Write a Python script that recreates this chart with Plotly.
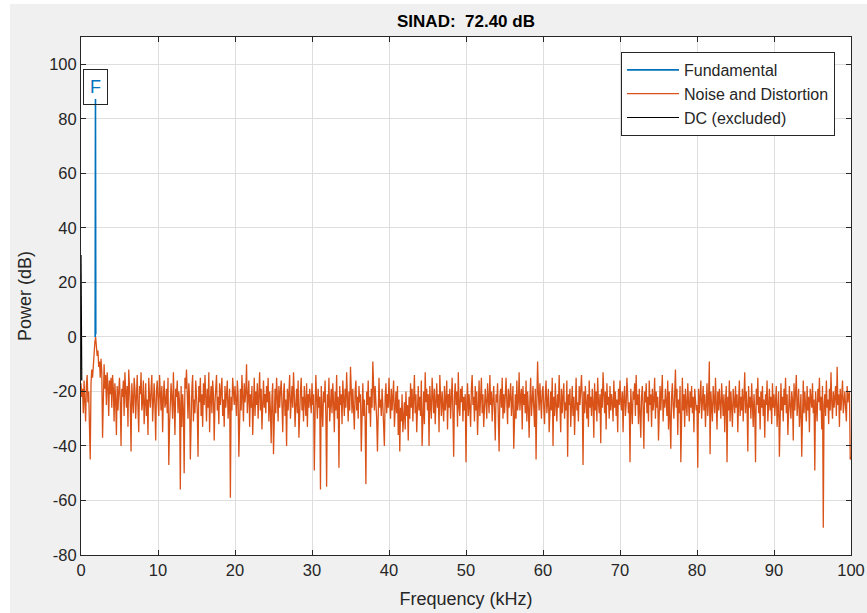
import plotly.graph_objects as go

# Spectrum bin spacing (kHz) for the noise/distortion trace
BIN_KHZ = 0.1

# Noise and distortion power (dB), one value per 0.1 kHz bin from 0 to 100 kHz
noise_db = [
    # 0.0 - 4.9 kHz
    -17, -22, -19, -28, -16, -25, -31, -18, -14, -24, -20, -33, -45, -17, -12, -15, -9, -6, -2, 0,
    -3, -7, -5, -11, -9, -15, -8, -13, -37, -12, -10, -19, -14, -25, -13, -18, -29, -16, -21, -15,
    -26, -14, -19, -31, -17, -23, -36, -18, -27, -20,
    # 5.0 - 9.9 kHz
    -15, -24, -40, -19, -22, -16, -29, -13, -21, -26, -18, -33, -12, -20, -25, -42, -17, -23, -28, -15,
    -19, -30, -22, -14, -26, -35, -18, -21, -13, -27, -24, -16, -32, -20, -17, -29, -23, -36, -15, -22,
    -26, -19, -14, -31, -21, -17, -25, -38, -20, -16,
    # 10.0 - 14.9 kHz
    -23, -29, -14, -20, -27, -18, -35, -22, -16, -26, -24, -19, -28, -15, -47, -32, -26, -17, -23, -30,
    -13, -25, -36, -19, -22, -16, -28, -20, -24, -56, -18, -33, -21, -27, -50, -15, -19, -12, -25, -30,
    -17, -22, -45, -26, -19, -14, -31, -23, -28, -16,
    # 15.0 - 19.9 kHz
    -20, -27, -44, -18, -24, -15, -29, -21, -33, -17, -25, -14, -22, -31, -19, -26, -13, -35, -23, -18,
    -28, -16, -21, -38, -24, -19, -14, -27, -22, -32, -17, -25, -20, -15, -29, -23, -33, -18, -26, -21,
    -16, -30, -24, -19, -59, -22, -27, -15, -20, -25,
    # 20.0 - 24.9 kHz
    -18, -23, -29, -16, -21, -44, -25, -19, -27, -14, -22, -31, -17, -24, -20, -10, -28, -23, -16, -33,
    -21, -26, -18, -36, -24, -15, -29, -20, -25, -17, -30, -22, -13, -27, -19, -34, -23, -16, -26, -21,
    -28, -18, -24, -15, -31, -20, -27, -39, -22, -17,
    # 25.0 - 29.9 kHz
    -43, -24, -19, -28, -15, -22, -31, -18, -26, -20, -16, -25, -35, -21, -17, -29, -23, -40, -19, -27,
    -22, -14, -30, -24, -18, -26, -13, -21, -33, -25, -19, -28, -16, -37, -23, -20, -15, -27, -22, -31,
    -18, -24, -29, -17, -33, -21, -26, -19, -23, -28,
    # 30.0 - 34.9 kHz
    -17, -25, -21, -49, -28, -14, -23, -30, -19, -26, -22, -56, -18, -27, -33, -20, -24, -16, -29, -55,
    -21, -26, -15, -31, -23, -19, -28, -17, -24, -35, -20, -27, -14, -30, -22, -48, -18, -25, -21, -32,
    -16, -24, -29, -19, -26, -13, -22, -31, -20, -27,
    # 35.0 - 39.9 kHz
    -11, -23, -28, -19, -25, -34, -20, -16, -27, -22, -30, -18, -24, -21, -42, -26, -17, -29, -23, -31,
    -54, -20, -25, -16, -28, -22, -33, -19, -26, -9, -21, -27, -18, -24, -30, -42, -20, -15, -26, -23,
    -29, -19, -25, -36, -40, -22, -17, -28, -21, -26,
    # 40.0 - 44.9 kHz
    -15, -24, -30, -19, -27, -22, -16, -33, -25, -20, -28, -18, -36, -23, -42, -26, -31, -21, -35, -27,
    -24, -34, -20, -29, -25, -38, -22, -30, -17, -26, -19, -31, -23, -14, -28, -21, -35, -24, -18, -27,
    -22, -29, -16, -40, -25, -20, -32, -13, -24, -19,
    # 45.0 - 49.9 kHz
    -27, -21, -40, -18, -25, -30, -15, -23, -28, -19, -32, -24, -17, -26, -21, -35, -14, -22, -29, -20,
    -25, -31, -18, -27, -23, -16, -34, -21, -26, -19, -30, -24, -15, -28, -44, -22, -17, -25, -20, -33,
    -13, -26, -29, -19, -24, -18, -31, -22, -27, -21,
    # 50.0 - 54.9 kHz
    -46, -24, -17, -29, -21, -26, -33, -19, -14, -25, -22, -31, -18, -27, -20, -36, -24, -16, -29, -23,
    -15, -28, -21, -33, -26, -19, -24, -30, -17, -22, -28, -14, -25, -20, -31, -23, -18, -27, -38, -21,
    -24, -17, -29, -42, -22, -19, -26, -15, -30, -21,
    # 55.0 - 59.9 kHz
    -28, -20, -15, -24, -32, -19, -26, -22, -17, -29, -23, -18, -41, -25, -21, -30, -16, -27, -24, -13,
    -27, -22, -19, -34, -18, -25, -21, -28, -16, -31, -20, -26, -37, -23, -15, -29, -22, -18, -26, -33,
    -19, -45, -24, -9, -21, -27, -17, -25, -30, -20,
    # 60.0 - 64.9 kHz
    -18, -26, -32, -21, -16, -28, -23, -19, -35, -24, -20, -27, -15, -40, -22, -29, -17, -25, -31, -21,
    -26, -14, -23, -35, -19, -28, -22, -17, -30, -24, -27, -16, -44, -21, -25, -19, -33, -23, -18, -29,
    -22, -36, -20, -15, -27, -24, -31, -18, -25, -21,
    # 65.0 - 69.9 kHz
    -14, -23, -47, -20, -28, -18, -25, -30, -21, -33, -16, -26, -22, -29, -19, -24, -37, -17, -27, -20,
    -31, -15, -24, -28, -21, -39, -19, -26, -13, -23, -28, -20, -34, -17, -25, -22, -30, -18, -27, -21,
    -24, -31, -16, -26, -20, -29, -23, -35, -19, -25,
    # 70.0 - 74.9 kHz
    -16, -24, -27, -20, -35, -22, -18, -29, -25, -15, -21, -28, -24, -46, -19, -26, -32, -20, -23, -17,
    -29, -14, -25, -21, -32, -19, -27, -37, -22, -18, -26, -41, -20, -24, -17, -28, -22, -31, -16, -25,
    -21, -33, -19, -27, -23, -15, -30, -20, -26, -22,
    # 75.0 - 79.9 kHz
    -38, -24, -18, -27, -21, -14, -31, -23, -26, -19, -24, -29, -16, -34, -20, -28, -41, -22, -17, -25,
    -30, -21, -12, -26, -19, -36, -23, -28, -18, -46, -24, -15, -27, -21, -33, -19, -25, -29, -17, -23,
    -31, -20, -26, -18, -28, -22, -35, -19, -24, -27,
    # 80.0 - 84.9 kHz
    -25, -48, -19, -28, -22, -16, -30, -24, -18, -27, -21, -33, -26, -17, -29, -23, -9, -43, -20, -26,
    -31, -18, -24, -28, -15, -22, -34, -20, -27, -19, -25, -30, -17, -23, -29, -21, -35, -24, -18, -46,
    -22, -27, -16, -31, -20, -26, -33, -19, -24, -28,
    # 85.0 - 89.9 kHz
    -18, -26, -21, -35, -24, -16, -29, -22, -27, -19, -31, -23, -13, -28, -20, -25, -42, -18, -26, -22,
    -30, -17, -24, -33, -21, -27, -46, -19, -25, -15, -28, -22, -34, -20, -26, -18, -29, -23, -37, -21,
    -25, -16, -31, -24, -19, -27, -22, -32, -17, -26,
    # 90.0 - 94.9 kHz
    -21, -29, -24, -18, -33, -26, -20, -44, -23, -17, -27, -22, -31, -19, -25, -15, -28, -21, -36, -24,
    -18, -26, -30, -20, -23, -38, -17, -27, -22, -14, -29, -24, -19, -33, -26, -21, -44, -23, -16, -28,
    -20, -25, -31, -18, -27, -22, -35, -19, -24, -26,
    # 95.0 - 100.0 kHz
    -17, -28, -23, -49, -20, -26, -31, -19, -24, -15, -27, -22, -34, -18, -70, -25, -21, -29, -16, -26,
    -23, -32, -19, -27, -13, -24, -30, -20, -26, -22, -18, -29, -11, -25, -21, -33, -19, -27, -23, -16,
    -28, -22, -20, -26, -31, -18, -24, -21, -20, -45,
    -44,
]
noise_khz = [i * BIN_KHZ for i in range(len(noise_db))]

# Fundamental tone bins
fund_khz = [1.84, 1.88, 1.92]
fund_db = [0, 87.3, 1]

# DC bins (excluded from the SINAD computation)
dc_khz = [0.0, 0.1]
dc_db = [30, -16]

sinad_db = 72.40

x_ticks = list(range(0, 101, 10))
y_ticks = list(range(-80, 101, 20))

BLUE = "#0072BD"
ORANGE = "#D95319"
AXIS = "#262626"
GRID = "#dedede"
FONT = "Liberation Sans, Arial, sans-serif"

fig = go.Figure()
fig.add_trace(go.Scatter(x=noise_khz, y=noise_db, mode="lines", name="Noise and Distortion",
                         line=dict(color=ORANGE, width=1.3), legendrank=2))
fig.add_trace(go.Scatter(x=fund_khz, y=fund_db, mode="lines", name="Fundamental",
                         line=dict(color=BLUE, width=1.6), legendrank=1))
fig.add_trace(go.Scatter(x=dc_khz, y=dc_db, mode="lines", name="DC (excluded)",
                         line=dict(color="#000000", width=1.2), legendrank=3))

# Marker label on the fundamental peak
fig.add_annotation(x=fund_khz[1], y=91.6, text="F", showarrow=False,
                   font=dict(color=BLUE, size=18, family=FONT),
                   bordercolor=AXIS, borderwidth=1, bgcolor="rgba(0,0,0,0)",
                   width=21, height=32, xanchor="center", yanchor="middle")

# Window background: grey figure area, white plot area
fig.add_shape(type="rect", xref="paper", yref="paper", layer="below",
              x0=(10 - 81) / 770, x1=(880 - 81) / 770, y0=-0.2, y1=(555 - 4) / 518,
              fillcolor="#f0f0f0", line=dict(width=0))
fig.add_shape(type="rect", xref="paper", yref="paper", layer="below",
              x0=0, x1=1, y0=0, y1=1, fillcolor="white", line=dict(width=0))

axis_common = dict(
    showline=True, linecolor=AXIS, linewidth=1, mirror="ticks",
    ticks="inside", ticklen=5, tickcolor=AXIS, tickwidth=1,
    showgrid=True, gridcolor=GRID, gridwidth=1, zeroline=False, automargin=False,
    tickfont=dict(family=FONT, size=16.5, color=AXIS),
)

fig.update_layout(
    width=867, height=613,
    margin=dict(l=81, r=16, t=37, b=58),
    paper_bgcolor="white", plot_bgcolor="white",
    font=dict(family=FONT, color=AXIS),
    title=dict(text=f"<b>SINAD:\u00a0 {sinad_db:.2f} dB</b>", x=466 / 867, xanchor="center",
               y=1 - 21 / 613, yanchor="middle", font=dict(size=17, color="#000000", family=FONT)),
    xaxis=dict(range=[0, 100], tickmode="array", tickvals=x_ticks, ticktext=[str(v) for v in x_ticks],
               title=dict(text="Frequency (kHz)", font=dict(size=18, family=FONT, color=AXIS), standoff=14),
               **axis_common),
    yaxis=dict(range=[-80, 110], tickmode="array", tickvals=y_ticks, ticktext=[str(v) for v in y_ticks],
               title=dict(text="Power (dB)", font=dict(size=18, family=FONT, color=AXIS), standoff=12),
               **axis_common),
    showlegend=True,
    legend=dict(x=(621 - 81) / 770, y=(555 - 52) / 518, xanchor="left", yanchor="top",
                bgcolor="white", bordercolor=AXIS, borderwidth=1, itemwidth=52,
                font=dict(family=FONT, size=16, color=AXIS), tracegroupgap=0),
)

fig.write_html("out.html")
